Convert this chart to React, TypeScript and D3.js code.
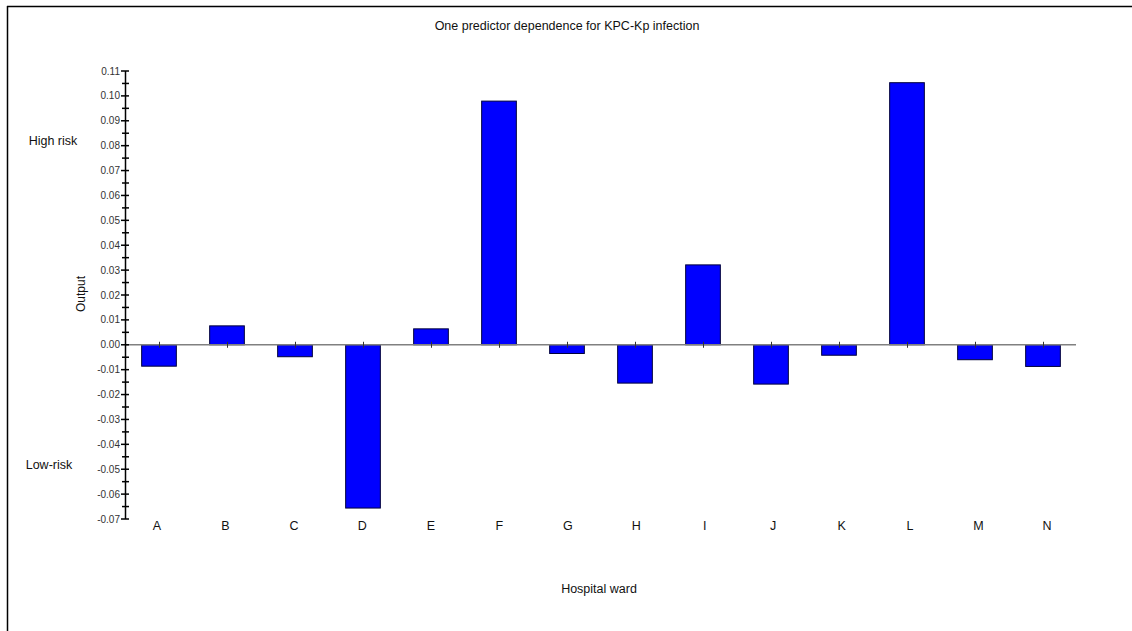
import React from "react";
import * as d3 from "d3";

const categories = ["A", "B", "C", "D", "E", "F", "G", "H", "I", "J", "K", "L", "M", "N"];
const values = [-0.0086, 0.0076, -0.0048, -0.0656, 0.0064, 0.0979, -0.0035, -0.0154, 0.0321, -0.0158, -0.0042, 0.1053, -0.0060, -0.0087];
const majorTicks = [0.11, 0.10, 0.09, 0.08, 0.07, 0.06, 0.05, 0.04, 0.03, 0.02, 0.01, 0.0, -0.01, -0.02, -0.03, -0.04, -0.05, -0.06, -0.07];
const title = "One predictor dependence for KPC-Kp infection";
const xTitle = "Hospital ward";
const yTitle = "Output";
const highLabel = "High risk";
const lowLabel = "Low-risk";

export default function App() {
  const W = 1132, H = 631;
  const y = d3.scaleLinear().domain([-0.07, 0.11]).range([519, 71]);
  const x = d3.scaleBand().domain(categories).range([125, 1077]).paddingInner(0.49).paddingOuter(0.245);
  const xl = d3.scalePoint().domain(categories).range([157, 1047]);
  const axisX = 125;
  const minorTicks = d3.range(-0.07, 0.11, 0.005).filter((v, i) => i % 2 === 1);
  const font = "'Liberation Sans', Arial, sans-serif";
  return (
    <svg width={W} height={H} style={{ position: "absolute", left: 0, top: 0 }} fontFamily={font}>
      <rect x={0} y={0} width={W} height={H} fill="#fff" />
      <line x1={7} y1={6.5} x2={W} y2={6.5} stroke="#000" strokeWidth={1.5} />
      <line x1={7.5} y1={6} x2={7.5} y2={H} stroke="#000" strokeWidth={1.5} />
      <text x={567} y={30} textAnchor="middle" fontSize={12.5} fill="#111">{title}</text>
      {categories.map((c, i) => {
        const v = values[i];
        const y0 = y(Math.max(0, v));
        const h = Math.abs(y(v) - y(0));
        return (
          <rect key={c} x={x(c)!} y={y0} width={x.bandwidth()} height={h} fill="#0000ff" stroke="#00003a" strokeWidth={1} />
        );
      })}
      <line x1={axisX} x2={1076} y1={y(0)} y2={y(0)} stroke="#808080" strokeWidth={1.5} />
      {categories.map((c) => {
        const cx = Math.round(x(c)! + x.bandwidth() / 2) + 0.5;
        return <line key={"t" + c} x1={cx} x2={cx} y1={y(0) - 3} y2={y(0) + 3} stroke="#333" strokeWidth={1} />;
      })}
      <line x1={axisX + 0.5} x2={axisX + 0.5} y1={y(0.11)} y2={y(-0.07)} stroke="#000" strokeWidth={1.5} />
      {majorTicks.map((t) => (
        <g key={"m" + t}>
          <line x1={axisX - 4} x2={axisX + 4} y1={y(t)} y2={y(t)} stroke="#000" strokeWidth={1.5} />
          <text x={axisX - 5} y={y(t) + 3.5} textAnchor="end" fontSize={10} fill="#333">{t.toFixed(2)}</text>
        </g>
      ))}
      {minorTicks.map((t) => (
        <line key={"n" + t} x1={axisX - 3} x2={axisX + 4} y1={y(t)} y2={y(t)} stroke="#000" strokeWidth={1.5} />
      ))}
      {categories.map((c) => (
        <text key={"l" + c} x={xl(c)!} y={530} textAnchor="middle" fontSize={12.5} fill="#111">{c}</text>
      ))}
      <text x={53} y={145} textAnchor="middle" fontSize={12.5} fill="#111">{highLabel}</text>
      <text x={49} y={469} textAnchor="middle" fontSize={12.5} fill="#111">{lowLabel}</text>
      <text transform={`translate(85,294) rotate(-90)`} textAnchor="middle" fontSize={12} fill="#111">{yTitle}</text>
      <text x={599} y={593} textAnchor="middle" fontSize={12.5} fill="#111">{xTitle}</text>
    </svg>
  );
}
